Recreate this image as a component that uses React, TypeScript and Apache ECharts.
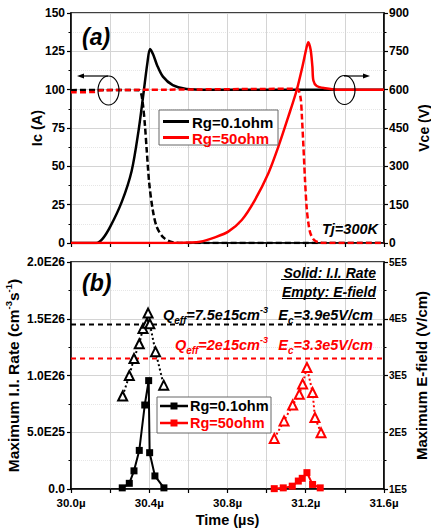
import React, { useEffect, useRef } from 'react';
import * as echarts from 'echarts';

// ---- Panel (a): switching waveforms, time in µs ----
const icRg01: [number, number][] = [
  [30.0, 0], [30.13, 0], [30.16, 2.5], [30.2, 10.5], [30.26, 27], [30.31, 47], [30.345, 73],
  [30.37, 97], [30.39, 117], [30.404, 126.5], [30.42, 123], [30.44, 116], [30.47, 108.5],
  [30.52, 103], [30.59, 100.5], [30.7, 100], [31.6, 100],
];
const vceRg01: [number, number][] = [
  [30.0, 598], [30.15, 599], [30.35, 598], [30.36, 580], [30.368, 540], [30.378, 460],
  [30.387, 364], [30.4, 233], [30.418, 129], [30.438, 64], [30.472, 22], [30.52, 3],
  [30.6, 0], [31.6, 0],
];
const icRg50: [number, number][] = [
  [30.0, 0], [30.5, 0], [30.6, 0.3], [30.66, 0.8], [30.736, 3.7], [30.804, 7.4], [30.873, 15],
  [30.94, 28], [31.009, 45.5], [31.06, 62.8], [31.111, 82.4], [31.154, 99.8], [31.183, 115],
  [31.205, 128], [31.213, 131], [31.225, 126], [31.234, 115], [31.239, 106], [31.256, 102.4],
  [31.3, 100.9], [31.36, 100], [31.6, 100],
];
const vceRg50: [number, number][] = [
  [30.0, 590], [30.12, 591], [30.14, 597], [30.5, 600], [31.0, 603], [31.15, 604], [31.165, 595],
  [31.175, 560], [31.18, 500], [31.188, 380], [31.196, 250], [31.205, 135], [31.215, 70],
  [31.225, 35], [31.245, 10], [31.27, 2], [31.3, 0], [31.6, 0],
];

// ---- Panel (b): maximum impact-ionisation rate and E-field ----
const rateRg01: [number, number][] = [
  [30.262, 0.01e26], [30.298, 0.05e26], [30.322, 0.16e26], [30.349, 0.34e26], [30.377, 0.74e26],
  [30.397, 0.955e26], [30.402, 0.32e26], [30.429, 0.115e26], [30.475, 0.01e26],
];
const efieldRg01: [number, number][] = [
  [30.264, 2.64e5], [30.298, 3.0e5], [30.322, 3.3e5], [30.349, 3.56e5], [30.368, 3.83e5],
  [30.388, 3.92e5], [30.394, 4.1e5], [30.403, 3.91e5], [30.432, 3.42e5], [30.474, 2.83e5],
];
const rateRg50: [number, number][] = [
  [31.039, 0.003e26], [31.085, 0.01e26], [31.131, 0.025e26], [31.162, 0.07e26],
  [31.182, 0.094e26], [31.206, 0.144e26], [31.235, 0.04e26], [31.274, 0.01e26],
];
const efieldRg50: [number, number][] = [
  [31.039, 1.89e5], [31.089, 2.2e5], [31.133, 2.48e5], [31.167, 2.67e5], [31.184, 2.85e5],
  [31.206, 3.14e5], [31.235, 2.7e5], [31.247, 2.26e5], [31.278, 1.99e5],
];
const ecRg01 = 3.9e5;
const ecRg50 = 3.3e5;
const timeRange = [30.0, 31.6];

const FF = '"Liberation Sans", Arial, sans-serif';
const BLACK = '#000';
const RED = '#ff0000';

function expLabel(v: number, digits: number) {
  if (v === 0) return digits ? '0.0' : '0';
  const e = Math.floor(Math.log10(v) + 1e-9);
  const m = v / Math.pow(10, e);
  return m.toFixed(digits) + 'E' + e;
}

export default function App() {
  const ref = useRef<HTMLDivElement>(null);
  useEffect(() => {
    const chart = echarts.init(ref.current!, null, { renderer: 'svg', width: 431, height: 529 });
    const tickLabel = { color: BLACK, fontWeight: 'bold' as const, fontFamily: FF, fontSize: 12 };
    const axisLine = { show: true, lineStyle: { color: BLACK, width: 1.5 } };
    const grid = { color: '#d4d4d4', width: 1 };
    const minorGrid = { color: '#e6e6e6', width: 1, type: 'dotted' as const };
    const nameStyle = (size: number) => ({ color: BLACK, fontWeight: 'bold' as const, fontFamily: FF, fontSize: size });

    const xCommon = {
      type: 'value' as const,
      min: timeRange[0],
      max: timeRange[1],
      interval: 0.2,
      axisLine,
      axisTick: { show: true, length: 4, lineStyle: { color: BLACK, width: 1.2 } },
      splitLine: { show: true, lineStyle: grid },
    };

    const ellipse = (cx: number, cy: number) => ({
      type: 'ellipse', shape: { cx, cy, rx: 10.5, ry: 14.5 },
      style: { fill: 'none', stroke: BLACK, lineWidth: 1.2 }, z: 100,
    });
    const arrow = (x1: number, x2: number, y: number) => {
      const dir = x2 > x1 ? 1 : -1;
      return [
        { type: 'line', shape: { x1, y1: y, x2: x2 - dir * 5, y2: y }, style: { stroke: BLACK, lineWidth: 1.2 }, z: 100 },
        { type: 'polygon', shape: { points: [[x2, y], [x2 - dir * 7, y - 2.5], [x2 - dir * 7, y + 2.5]] }, style: { fill: BLACK }, z: 100 },
      ];
    };
    const txt = (x: number, y: number, text: string, extra: any = {}) => ({
      type: 'text', x, y, z: 100,
      style: { text, fontFamily: FF, fontWeight: 'bold', fill: BLACK, fontSize: 14, textVerticalAlign: 'middle', ...extra },
    });
    const richQE = (color: string, size: number) => ({
      m: { fontSize: size, fontStyle: 'italic', fontWeight: 'bold', fontFamily: FF, fill: color, color, lineHeight: 20 },
      sub: { fontSize: 10, fontStyle: 'italic', fontWeight: 'bold', fontFamily: FF, fill: color, color, verticalAlign: 'bottom', lineHeight: 20 },
      sup: { fontSize: 9, fontStyle: 'italic', fontWeight: 'bold', fontFamily: FF, fill: color, color, verticalAlign: 'top', lineHeight: 20 },
    });

    const option: any = {
      animation: false,
      backgroundColor: '#fff',
      textStyle: { fontFamily: FF },
      grid: [
        { left: 71, top: 13, width: 313, height: 230, show: true, borderColor: BLACK, borderWidth: 1.5, backgroundColor: 'transparent', containLabel: false, outerBoundsMode: 'none' },
        { left: 71, top: 262, width: 313, height: 227, show: true, borderColor: BLACK, borderWidth: 1.5, backgroundColor: 'transparent', containLabel: false, outerBoundsMode: 'none' },
      ],
      xAxis: [
        { ...xCommon, gridIndex: 0, axisLabel: { show: false } },
        {
          ...xCommon, gridIndex: 1,
          axisLabel: { ...tickLabel, fontSize: 11.5, margin: 8, formatter: (v: number) => (Math.round(v * 10) % 4 === 0 ? v.toFixed(1) + 'µ' : '') },
          name: 'Time (µs)', nameLocation: 'middle', nameGap: 23, nameMoveOverlap: false, nameTextStyle: { ...nameStyle(14.5), verticalAlign: 'top' },
        },
      ],
      yAxis: [
        {
          type: 'value', gridIndex: 0, min: 0, max: 150, interval: 25, axisLine,
          axisTick: { show: true, length: 4, lineStyle: { color: BLACK, width: 1.2 } },
          minorTick: { show: true, splitNumber: 2, length: 2.5, lineStyle: { color: BLACK } },
          splitLine: { show: true, lineStyle: grid }, minorSplitLine: { show: true, lineStyle: minorGrid },
          axisLabel: { ...tickLabel, margin: 6 },
          name: 'Ic (A)', nameLocation: 'middle', nameRotate: 90, nameGap: 27, nameMoveOverlap: false, nameTextStyle: nameStyle(14.5),
        },
        {
          type: 'value', gridIndex: 0, position: 'right', min: 0, max: 900, interval: 150, axisLine,
          axisTick: { show: true, length: 4, lineStyle: { color: BLACK, width: 1.2 } },
          minorTick: { show: true, splitNumber: 2, length: 2.5, lineStyle: { color: BLACK } },
          splitLine: { show: false },
          axisLabel: { ...tickLabel, margin: 5 },
          name: 'Vce (V)', nameLocation: 'middle', nameRotate: 90, nameGap: 33, nameMoveOverlap: false, nameTextStyle: nameStyle(14),
        },
        {
          type: 'value', gridIndex: 1, min: 0, max: 2e26, interval: 0.5e26, axisLine,
          axisTick: { show: true, length: 4, lineStyle: { color: BLACK, width: 1.2 } },
          minorTick: { show: true, splitNumber: 2, length: 2.5, lineStyle: { color: BLACK } },
          splitLine: { show: true, lineStyle: grid }, minorSplitLine: { show: true, lineStyle: minorGrid },
          axisLabel: { ...tickLabel, margin: 6, formatter: (v: number) => expLabel(v, 1) },
          name: '{a|Maximum I.I. Rate (cm}{s|-3}{a|s}{s|-1}{a|)}', nameLocation: 'middle', nameRotate: 90, nameGap: 48, nameMoveOverlap: false,
          nameTextStyle: {
            ...nameStyle(15.5),
            rich: {
              a: { fontSize: 15.5, fontWeight: 'bold', fontFamily: FF, color: BLACK, lineHeight: 20 },
              s: { fontSize: 9.5, fontWeight: 'bold', fontFamily: FF, color: BLACK, verticalAlign: 'top', lineHeight: 20 },
            },
          },
        },
        {
          type: 'value', gridIndex: 1, position: 'right', min: 1e5, max: 5e5, interval: 1e5, axisLine,
          axisTick: { show: true, length: 4, lineStyle: { color: BLACK, width: 1.2 } },
          minorTick: { show: true, splitNumber: 2, length: 2.5, lineStyle: { color: BLACK } },
          splitLine: { show: false },
          axisLabel: { ...tickLabel, fontSize: 10, margin: 5, formatter: (v: number) => expLabel(v, 0) },
          name: 'Maximum E-field (V/cm)', nameLocation: 'middle', nameRotate: 90, nameGap: 30, nameMoveOverlap: false, nameTextStyle: nameStyle(15),
        },
      ],
      series: [
        { name: 'Ic Rg=0.1ohm', type: 'line', xAxisIndex: 0, yAxisIndex: 0, data: icRg01, showSymbol: false, smooth: 0.3, lineStyle: { color: BLACK, width: 2.5 }, z: 3 },
        { name: 'Vce Rg=0.1ohm', type: 'line', xAxisIndex: 0, yAxisIndex: 1, data: vceRg01, showSymbol: false, smooth: 0.3, lineStyle: { color: BLACK, width: 2.5, type: [6, 3] }, z: 3 },
        { name: 'Ic Rg=50ohm', type: 'line', xAxisIndex: 0, yAxisIndex: 0, data: icRg50, showSymbol: false, smooth: 0.3, lineStyle: { color: RED, width: 2.5 }, z: 4 },
        { name: 'Vce Rg=50ohm', type: 'line', xAxisIndex: 0, yAxisIndex: 1, data: vceRg50, showSymbol: false, smooth: 0.3, lineStyle: { color: RED, width: 2.5, type: [6, 3] }, z: 4 },

        { name: 'Ec Rg=0.1ohm', type: 'line', xAxisIndex: 1, yAxisIndex: 3, data: timeRange.map((t) => [t, ecRg01]), showSymbol: false, lineStyle: { color: BLACK, width: 2, type: [5, 4] }, z: 2 },
        { name: 'Ec Rg=50ohm', type: 'line', xAxisIndex: 1, yAxisIndex: 3, data: timeRange.map((t) => [t, ecRg50]), showSymbol: false, lineStyle: { color: RED, width: 2, type: [5, 4] }, z: 2 },
        { name: 'E Rg=0.1ohm', type: 'line', xAxisIndex: 1, yAxisIndex: 3, data: efieldRg01, symbol: 'emptyTriangle', symbolSize: 9, itemStyle: { color: BLACK, borderWidth: 1.4 }, lineStyle: { color: BLACK, width: 2, type: [2, 2.5] }, z: 5 },
        { name: 'E Rg=50ohm', type: 'line', xAxisIndex: 1, yAxisIndex: 3, data: efieldRg50, symbol: 'emptyTriangle', symbolSize: 9, itemStyle: { color: RED, borderWidth: 1.4 }, lineStyle: { color: RED, width: 2, type: [2, 2.5] }, z: 5 },
        { name: 'Rate Rg=0.1ohm', type: 'line', xAxisIndex: 1, yAxisIndex: 2, data: rateRg01, symbol: 'rect', symbolSize: 7, itemStyle: { color: BLACK }, lineStyle: { color: BLACK, width: 2 }, z: 6 },
        { name: 'Rate Rg=50ohm', type: 'line', xAxisIndex: 1, yAxisIndex: 2, data: rateRg50, symbol: 'rect', symbolSize: 7, itemStyle: { color: RED }, lineStyle: { color: RED, width: 2 }, z: 6 },
      ],
      graphic: [
        // panel (a)
        txt(82, 37, '(a)', { fontSize: 23, fontStyle: 'italic' }),
        { type: 'rect', shape: { x: 159, y: 110, width: 119, height: 35 }, style: { fill: '#fff', stroke: '#666', lineWidth: 1 }, z: 90 },
        { type: 'line', shape: { x1: 163, y1: 121.5, x2: 189, y2: 121.5 }, style: { stroke: BLACK, lineWidth: 3 }, z: 100 },
        txt(192, 122, 'Rg=0.1ohm', { fontSize: 15 }),
        { type: 'line', shape: { x1: 163, y1: 137.5, x2: 189, y2: 137.5 }, style: { stroke: RED, lineWidth: 3 }, z: 100 },
        txt(192, 138, 'Rg=50ohm', { fontSize: 15, fill: RED }),
        txt(378, 229, 'Tj=300K', { fontSize: 14.5, fontStyle: 'italic', textAlign: 'right' }),
        ellipse(108.5, 90.5),
        ...arrow(108, 77, 76),
        ellipse(344.5, 90),
        ...arrow(344, 370, 76),
        // panel (b)
        txt(82, 283, '(b)', { fontSize: 23, fontStyle: 'italic' }),
        txt(376, 273, 'Solid: I.I. Rate', { fontSize: 14, fontStyle: 'italic', textAlign: 'right' }),
        { type: 'line', shape: { x1: 281, y1: 279.5, x2: 376, y2: 279.5 }, style: { stroke: BLACK, lineWidth: 1.2 }, z: 100 },
        txt(376, 292, 'Empty: E-field', { fontSize: 14, fontStyle: 'italic', textAlign: 'right' }),
        { type: 'line', shape: { x1: 282, y1: 298.5, x2: 376, y2: 298.5 }, style: { stroke: BLACK, lineWidth: 1.2 }, z: 100 },
        { type: 'text', x: 268, y: 315, z: 100, style: { text: '{m|Q}{sub|eff}{m|=7.5e15cm}{sup|-3}', textAlign: 'right', textVerticalAlign: 'middle', rich: richQE(BLACK, 14.5) } },
        { type: 'text', x: 373, y: 315, z: 100, style: { text: '{m|E}{sub|c}{m|=3.9e5V/cm}', textAlign: 'right', textVerticalAlign: 'middle', rich: richQE(BLACK, 14.5) } },
        { type: 'text', x: 268, y: 345, z: 100, style: { text: '{m|Q}{sub|eff}{m|=2e15cm}{sup|-3}', textAlign: 'right', textVerticalAlign: 'middle', rich: richQE(RED, 14.5) } },
        { type: 'text', x: 373, y: 345, z: 100, style: { text: '{m|E}{sub|c}{m|=3.3e5V/cm}', textAlign: 'right', textVerticalAlign: 'middle', rich: richQE(RED, 14.5) } },
        { type: 'rect', shape: { x: 157, y: 397, width: 114, height: 36 }, style: { fill: '#fff', stroke: '#666', lineWidth: 1 }, z: 90 },
        { type: 'line', shape: { x1: 160, y1: 406, x2: 188, y2: 406 }, style: { stroke: BLACK, lineWidth: 2.5 }, z: 100 },
        { type: 'rect', shape: { x: 170.5, y: 402.5, width: 7, height: 7 }, style: { fill: BLACK }, z: 100 },
        txt(190, 406, 'Rg=0.1ohm', { fontSize: 14.5 }),
        { type: 'line', shape: { x1: 160, y1: 423, x2: 188, y2: 423 }, style: { stroke: RED, lineWidth: 2.5 }, z: 100 },
        { type: 'rect', shape: { x: 170.5, y: 419.5, width: 7, height: 7 }, style: { fill: RED }, z: 100 },
        txt(190, 423, 'Rg=50ohm', { fontSize: 14.5, fill: RED }),
      ],
    };
    chart.setOption(option);
    return () => chart.dispose();
  }, []);
  return <div ref={ref} style={{ position: 'absolute', left: 0, top: 0, width: 431, height: 529 }} />;
}
